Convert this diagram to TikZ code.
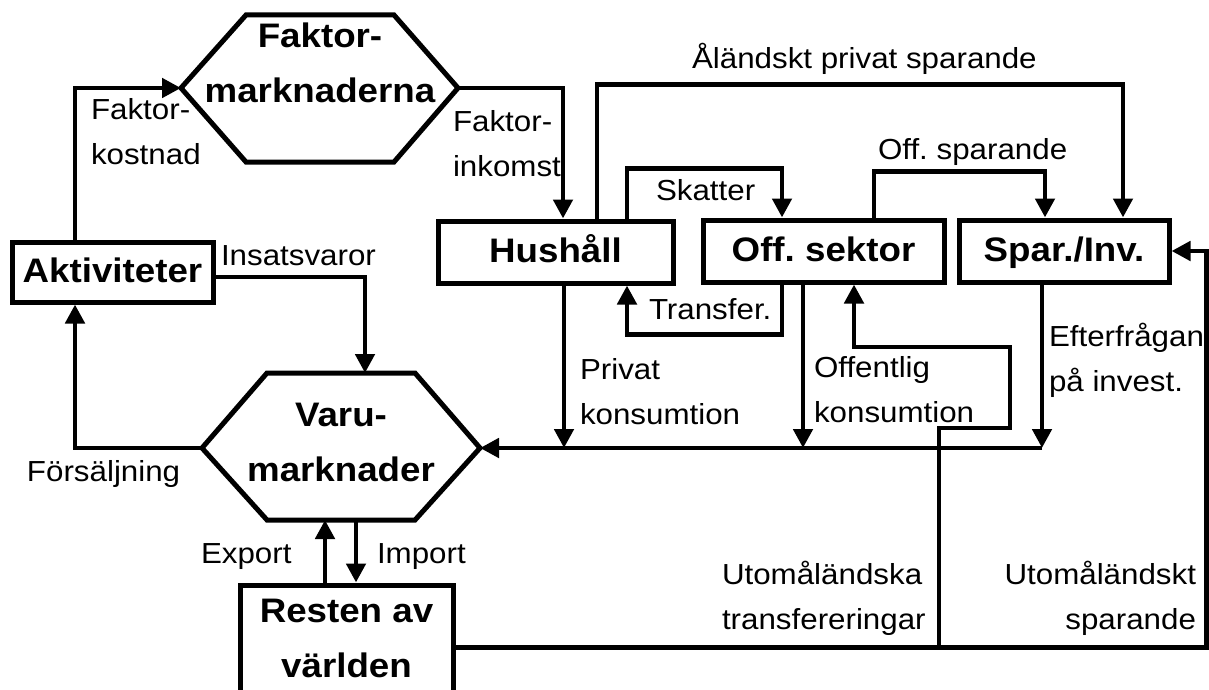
\documentclass[tikz,border=0pt]{standalone}
\usepackage{fontspec}
\setmainfont{Liberation Sans}[FakeStretch=1.08]
\usetikzlibrary{arrows.meta}
\frenchspacing
\newcommand\rstr{\rule[-14.5pt]{0pt}{45pt}}
\newcommand\bstr{\rule[-17.5pt]{0pt}{55pt}}
\tikzset{
  lbl/.style={font=\fontsize{29}{45}\selectfont, inner sep=0pt, outer sep=0pt,
    execute at begin node=\rstr, execute at end node=\rstr},
  bx/.style={draw, line width=5pt, font=\bfseries\fontsize{34}{55}\selectfont,
    inner sep=0pt, align=center, execute at begin node=\bstr, execute at end node=\bstr},
  htxt/.style={font=\bfseries\fontsize{34}{55}\selectfont, inner sep=0pt, align=center,
    execute at begin node=\bstr, execute at end node=\bstr},
  hex/.style={draw, line width=5pt, line join=miter},
  arr/.style={line width=4.8pt, -{Triangle[length=19pt,width=19pt]}},
}
\begin{document}
\begin{tikzpicture}[x=1pt,y=-1pt]
\useasboundingbox (0,0) rectangle (1209,690);
\fill[white] (0,0) rectangle (1209,690);
\clip (0,0) rectangle (1209,690);

% hexagons
\draw[hex] (181,88) coordinate (fmL) -- (246,15) -- (394,15) -- (458,88) coordinate (fmR)
  -- (394,162) -- (246,162) -- cycle;
\node[htxt] (fm) at (320,71.5) {Faktor-\\marknaderna};

\draw[hex] (202,448) coordinate (vmL) -- (267,373) -- (415,373) -- (480,448) coordinate (vmR)
  -- (415,520) -- (267,520) -- cycle;
\coordinate (vmT) at (365,373);
\coordinate (vmB) at (341,520);
\node[htxt] (vm) at (341,451.5) {Varu-\\marknader};

% boxes
\node[bx, minimum width=201pt, minimum height=60pt] (akt) at (112.5,272) {Aktiviteter};
\node[bx, minimum width=235pt, minimum height=62pt] (hh) at (555.5,252) {Hushåll};
\node[bx, minimum width=241pt, minimum height=62pt] (os) at (823.5,251) {Off. sektor};
\node[bx, minimum width=210pt, minimum height=62pt] (sp) at (1064,251) {Spar./Inv.};
\node[bx, minimum width=213pt, minimum height=125pt] (rv) at (346.5,647.5) {Resten av\\världen};

% connectors
\draw[arr] ([xshift=65.5pt]akt.north west) |- (fmL);
\draw[arr] (fmR) -| ([xshift=127.5pt]hh.north west);
\draw[arr] ([yshift=-5pt]akt.east) -| (vmT);
\draw[arr] (vmL) -| ([xshift=65.5pt]akt.south west);

\draw[arr] ([xshift=161.5pt]hh.north west) -- ++(0,-134) -| ([xshift=166.5pt]sp.north west);
\draw[arr] ([xshift=191.5pt]hh.north west) -- ++(0,-50) -| ([xshift=81.5pt]os.north west);
\draw[arr] ([xshift=81.5pt]os.south west) -- ++(0,50) -| ([xshift=191.5pt]hh.south west);
\draw[arr] ([xshift=173.5pt]os.north west) -- ++(0,-46) -| ([xshift=88.5pt]sp.north west);

\coordinate (pk) at ([xshift=128.5pt]hh.south west);
\coordinate (ok) at ([xshift=102.5pt]os.south west);
\coordinate (ei) at ([xshift=85.5pt]sp.south west);
\draw[arr] (pk) -- (pk |- vmR);
\draw[arr] (ok) -- (ok |- vmR);
\draw[arr] (ei) -- (ei |- vmR);
\draw[arr] (ei |- vmR) -- (vmR);

\draw[arr] (rv.east) -| ([xshift=35pt]sp.east) -- (sp.east);
\coordinate (utb) at (939,647.5);
\draw[arr] (utb) -- ++(0,-219.5) -- ++(71,0) -- ++(0,-81) -| ([xshift=153.5pt]os.south west);

\coordinate (ex) at ([xshift=87.5pt]rv.north west);
\coordinate (im) at ([xshift=118.5pt]rv.north west);
\draw[arr] (ex) -- (ex |- vmB);
\draw[arr] (im |- vmB) -- (im);

% labels
\node[lbl, align=left, anchor=west] (lfk) at (91,138.5) {Faktor-\\kostnad};
\node[lbl, align=left, anchor=west] (lfi) at (453,150.5) {Faktor-\\inkomst};
\node[lbl, anchor=west] (lins) at (221,257) {Insatsvaror};
\node[lbl, anchor=west] (lskatt) at (656,192) {Skatter};
\node[lbl, anchor=west] (loffsp) at (878,151) {Off. sparande};
\node[lbl, anchor=west] (lal) at (692,61) {Åländskt privat sparande};
\node[lbl, anchor=west] (ltr) at (649,311) {Transfer.};
\node[lbl, align=left, anchor=west] (lpk) at (580,398.5) {Privat\\konsumtion};
\node[lbl, align=left, anchor=west] (lok) at (814,397) {Offentlig\\konsumtion};
\node[lbl, align=left, anchor=west] (lef) at (1049,364.5) {Efterfrågan\\på invest.};
\node[lbl, anchor=west] (lfor) at (27,473) {Försäljning};
\node[lbl, anchor=west] (lexp) at (201,555) {Export};
\node[lbl, anchor=west] (limp) at (377,555) {Import};
\node[lbl, align=left, anchor=west] (lut) at (722,602.5) {Utomåländska\\transfereringar};
\node[lbl, align=right, anchor=east] (luts) at (1196,602.5) {Utomåländskt\\sparande};
\end{tikzpicture}
\end{document}
